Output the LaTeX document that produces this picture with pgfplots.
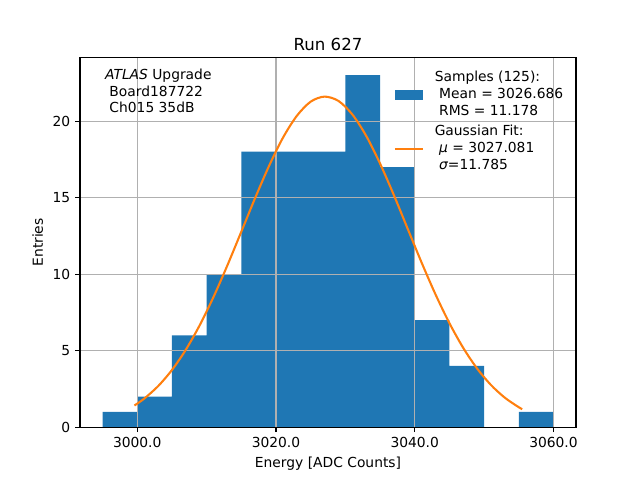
\documentclass[border=0pt]{standalone}
\usepackage{fontspec}
\setmainfont{DejaVu Sans}
\usepackage{pgfplots}
\pgfplotsset{compat=1.18}
\definecolor{tabblue}{HTML}{1F77B4}
\definecolor{taborange}{HTML}{FF7F0E}
\definecolor{gridgray}{HTML}{B0B0B0}
\begin{document}
\fontsize{10}{12}\selectfont
\begin{tikzpicture}
\begin{axis}[
  set layers=standard,
  at={(0,0)}, anchor=south west,
  width=4.96in, height=3.696in, scale only axis,
  xmin=2991.75, xmax=3063.25, ymin=0, ymax=24.15,
  xtick={3000,3020,3040,3060}, ytick={0,5,10,15,20},
  xtick pos=left, ytick pos=left,
  grid=major, grid style={gridgray, line width=0.8pt},
  axis line style={line width=0.8pt},
  tick style={line width=0.8pt, black},
  tick align=outside, major tick length=3.5pt,
  /pgf/number format/assume math mode=true,
  xticklabel style={/pgf/number format/.cd, fixed, fixed zerofill, precision=1, 1000 sep={}},
  ticklabel style={font=\fontsize{10}{12}\selectfont},
  label style={font=\fontsize{10}{12}\selectfont},
  xlabel={Energy [ADC Counts]},
  ylabel={Entries},
  title={Run 627},
  title style={font=\fontsize{12}{14}\selectfont, at={(0.5,1)}, anchor=base, yshift=-1.2pt, inner sep=0pt},
  legend cell align=left,
  legend style={at={(1,1)}, anchor=north east, xshift=-9pt, yshift=-9pt,
    draw=none, fill=none, inner sep=0pt, row sep=3pt, column sep=8pt,
    nodes={inner sep=0pt, text depth=, text height=},
    font=\fontsize{10}{12}\selectfont},
]
\addplot[ybar interval, fill=tabblue, draw=none, on layer=axis background,
  legend image code/.code={\fill[tabblue] (0pt,-3.5pt) rectangle (20pt,3.5pt);}]
  coordinates {(2995,1)(3000,2)(3005,6)(3010,10)(3015,18)(3020,18)(3025,18)(3030,23)(3035,17)(3040,7)(3045,4)(3050,0)(3055,1)(3060,1)};
\addlegendentry{\begin{tabular}{@{}l@{}}Samples (125):\\\ Mean = 3026.686\\\ RMS = 11.178\end{tabular}}
\addplot[taborange, line width=1.5pt, smooth,
  legend image code/.code={\draw[taborange, line width=1.5pt] (0pt,0pt) -- (20pt,0pt);}]
  coordinates {(2999.6,1.42)(3001,1.866)(3003,2.678)(3005,3.735)(3007,5.059)(3009,6.657)(3011,8.515)(3013,10.58)(3015,12.77)(3017,14.98)(3019,17.07)(3021,18.91)(3023,20.34)(3025,21.27)(3027,21.60)(3029,21.32)(3031,20.44)(3033,19.04)(3035,17.23)(3037,15.16)(3039,12.95)(3041,10.75)(3043,8.675)(3045,6.80)(3047,5.178)(3049,3.830)(3051,2.754)(3053,1.924)(3055,1.305)(3055.5,1.179)};
\addlegendentry{\begin{tabular}{@{}l@{}}Gaussian Fit:\\\ {\itshape μ} = 3027.081\\\ {\itshape σ}=11.785\end{tabular}}
\node[anchor=north west, inner sep=0pt, font=\fontsize{10}{12}\selectfont] at (rel axis cs:0.05,0.973)
  {\begin{tabular}{@{}l@{}}\textit{ATLAS} Upgrade\\\ Board187722\\\ Ch015 35dB\end{tabular}};
\end{axis}
\pgfresetboundingbox
\useasboundingbox (-0.8in,-0.528in) rectangle (5.6in,4.272in);
\end{tikzpicture}
\end{document}
